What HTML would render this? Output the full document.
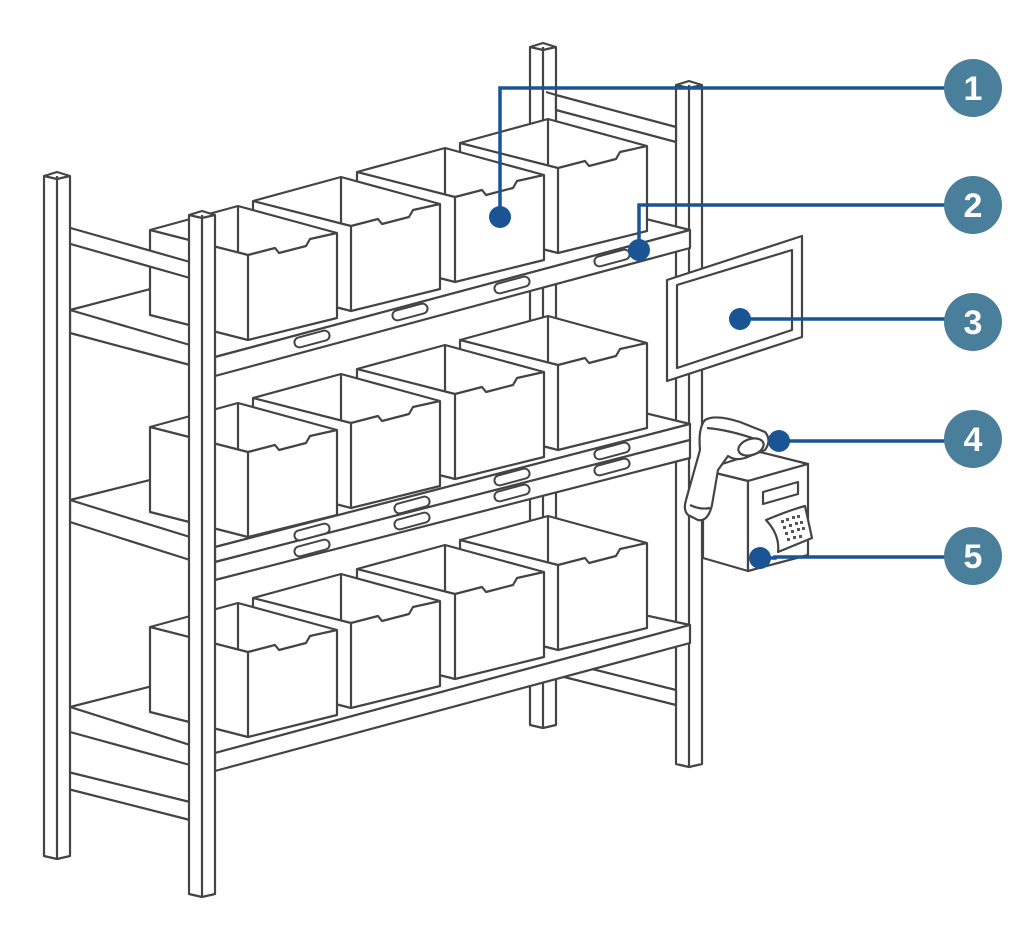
<!DOCTYPE html>
<html><head><meta charset="utf-8"><style>
html,body{margin:0;padding:0;background:#fff;}
svg{display:block;}
</style></head><body>
<svg width="1010" height="931" viewBox="0 0 1010 931" xmlns="http://www.w3.org/2000/svg">
<defs>
<g id="box" fill="#fff" stroke="#444" stroke-width="2.2" stroke-linejoin="round">
  <path d="M-98,-25 L-10,-49 L89,-22 L89,63 L0,85 L-98,60 Z"/>
  <path d="M-10,-49 L-10,-3"/>
  <path d="M-98,-25 L0,0 L0,85"/>
  <path d="M0,0 L27,-7 L31,-2 L58,-9 L62,-16 L89,-22"/>
</g>
<g id="slot" fill="#fff" stroke="#444" stroke-width="2">
  <rect x="-18" y="-5" width="36" height="10" rx="5" transform="rotate(-15)"/>
</g>
</defs>
<g fill="#fff" stroke="#444" stroke-width="2.2" stroke-linejoin="round">
<path d="M530,47 L543,43 L556,47 L556,725 L543,728 L530,725 Z"/><path d="M543,47 L543,728 M530,47 L543,50 L556,47"/>
<path d="M676,85 L689,81 L702,85 L702,764 L689,767 L676,764 Z"/><path d="M689,85 L689,767 M676,85 L689,88 L702,85"/>
<path d="M556,95 L676,127 L676,142 L556,110 Z"/><path d="M546,92 L556,95"/>
<path d="M556,660 L676,690 L676,705 L556,675 Z"/>
<path d="M70,310 L530,190 L690,230 L215,357 Z"/>
<path d="M70,310 L190,345 L190,365 L70,333 Z"/>
<path d="M70,500 L530,385 L690,424 L215,547 Z"/>
<path d="M70,500 L190,537 L190,560 L70,522 Z"/>
<path d="M70,707 L530,590 L690,625 L215,753 Z"/>
<path d="M70,707 L190,745 L190,765 L70,732 Z"/>
</g>
<use href="#box" x="558" y="168"/><use href="#box" x="455" y="197"/><use href="#box" x="351" y="226"/><use href="#box" x="248" y="255"/>
<use href="#box" x="558" y="365"/><use href="#box" x="455" y="394"/><use href="#box" x="351" y="423"/><use href="#box" x="248" y="452"/>
<use href="#box" x="558" y="565"/><use href="#box" x="455" y="594"/><use href="#box" x="351" y="623"/><use href="#box" x="248" y="652"/>
<g fill="#fff" stroke="#444" stroke-width="2.2" stroke-linejoin="round">
<path d="M215,357 L690,230 L690,248 L215,376 Z"/>
<path d="M215,547 L690,424 L690,440 L215,562 Z"/>
<path d="M215,562 L690,440 L690,458 L215,580 Z"/>
<path d="M215,753 L690,625 L690,643 L215,771 Z"/>
<path d="M60,225 L190,262 L190,278 L60,241 Z"/>
<path d="M60,770 L190,802 L190,820 L60,787 Z"/>
<path d="M44,176 L57,172 L70,176 L70,856 L57,859 L44,856 Z"/><path d="M57,176 L57,859 M44,176 L57,179 L70,176"/>
<path d="M189,215 L202,211 L215,215 L215,894 L202,897 L189,894 Z"/><path d="M202,215 L202,897 M189,215 L202,218 L215,215"/>
</g>
<use href="#slot" x="312" y="339"/><use href="#slot" x="410" y="312"/><use href="#slot" x="512" y="285"/><use href="#slot" x="612" y="258"/>
<use href="#slot" x="312" y="532"/><use href="#slot" x="412" y="505"/><use href="#slot" x="512" y="477"/><use href="#slot" x="612" y="451"/>
<use href="#slot" x="312" y="548"/><use href="#slot" x="412" y="521"/><use href="#slot" x="512" y="493"/><use href="#slot" x="612" y="467"/>
<g fill="#fff" stroke="#444" stroke-width="2.2" stroke-linejoin="round">
<path d="M667,280 L802,236 L802,337 L667,381 Z"/>
<path d="M677,285 L792,250 L792,330 L677,368 Z"/>
<path d="M703,470 L760,452 L808,464 L748,481 Z"/>
<path d="M703,470 L748,481 L748,571 L703,558 Z"/>
<path d="M748,481 L808,464 L808,555 L748,571 Z"/>
<path d="M763,492 L798,482 L798,494 L763,504 Z"/>
<path d="M766,520 Q790,510 805,506 L812,538 Q795,545 778,552 Q780,535 766,520 Z"/>
</g>
<g fill="#555">
<rect x="781" y="520" width="3" height="3"/><rect x="786" y="518" width="3" height="3"/><rect x="792" y="516" width="3" height="3"/><rect x="797" y="515" width="3" height="3"/>
<rect x="783" y="526" width="3" height="3"/><rect x="789" y="524" width="3" height="3"/><rect x="795" y="522" width="3" height="3"/><rect x="800" y="521" width="3" height="3"/>
<rect x="785" y="532" width="3" height="3"/><rect x="791" y="530" width="3" height="3"/><rect x="797" y="528" width="3" height="3"/><rect x="802" y="527" width="3" height="3"/>
<rect x="787" y="538" width="3" height="3"/><rect x="793" y="536" width="3" height="3"/><rect x="799" y="535" width="3" height="3"/>
</g>
<g fill="#fff" stroke="#444" stroke-width="2.2" stroke-linejoin="round">
<path d="M705,420 Q715,414 740,422 L765,432 Q772,440 765,450 L745,458 Q735,461 728,456 L718,470 L712,505 Q708,522 698,520 L688,515 Q683,510 686,500 L700,450 Q698,428 705,420 Z"/>
<path d="M707,428 Q730,430 758,440"/>
<ellipse cx="751" cy="447" rx="13" ry="8" transform="rotate(-18 751 447)"/>
<path d="M690,505 Q700,510 710,508"/>
</g>
<g stroke="#1a5494" stroke-width="3.5" fill="none">
<path d="M500,217 L500,88 L945,88"/>
<path d="M639,250 L639,205 L945,205"/>
<path d="M740,319 L945,319"/>
<path d="M779,441 L945,441"/>
<path d="M760,558 L775,558 L775,557 L945,557"/>
</g>
<g fill="#1a5494">
<circle cx="500" cy="217" r="11"/><circle cx="639" cy="250" r="11"/><circle cx="740" cy="319" r="11"/><circle cx="779" cy="441" r="11"/><circle cx="760" cy="558" r="11"/>
</g>
<g fill="#4a7f9c">
<circle cx="973" cy="88" r="29"/><circle cx="973" cy="205" r="29"/><circle cx="973" cy="322" r="29"/><circle cx="973" cy="439" r="29"/><circle cx="973" cy="556" r="29"/>
</g>
<g fill="#fff" font-family="Liberation Sans, sans-serif" font-weight="bold" font-size="34" text-anchor="middle">
<text x="973" y="100">1</text><text x="973" y="217">2</text><text x="973" y="334">3</text><text x="973" y="451">4</text><text x="973" y="568">5</text>
</g>
</svg>
</body></html>
